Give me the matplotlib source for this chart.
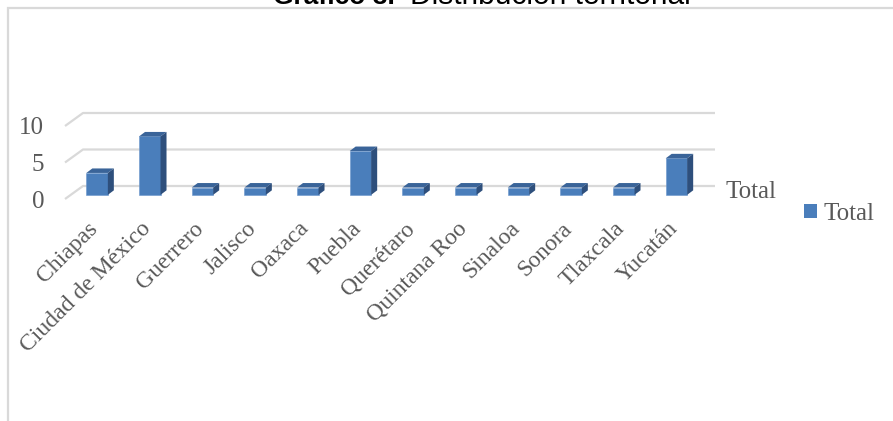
import matplotlib
matplotlib.use("Agg")
import matplotlib.pyplot as plt
import numpy as np
from matplotlib.patches import Polygon, Rectangle, Patch

categories = ["Chiapas", "Ciudad de México", "Guerrero", "Jalisco", "Oaxaca", "Puebla",
              "Querétaro", "Quintana Roo", "Sinaloa", "Sonora", "Tlaxcala", "Yucatán"]
values = [3, 8, 1, 1, 1, 6, 1, 1, 1, 1, 1, 5]
yticks = [0, 5, 10]
series_name = "Total"
title_bold = "Gráfico 3."
title_rest = "Distribución territorial"

W, H = 893, 421
fig = plt.figure(figsize=(W / 100, H / 100), dpi=100)

# axes in "front plane" coordinates
px_left, px_right = 65, 697
px_y0, px_y10 = 199, 126
ax = fig.add_axes([px_left / W, 1 - px_y0 / H, (px_right - px_left) / W, (px_y0 - px_y10) / H])
n = len(categories)
ax.set_xlim(-0.5, n - 0.5)
ax.set_ylim(0, 10)
for s in ax.spines.values():
    s.set_visible(False)
ax.patch.set_alpha(0)

cat_px = (px_right - px_left) / n
val_px = (px_y0 - px_y10) / 10.0
dxb, dyb = 18 / cat_px, 13 / val_px          # floor depth (front -> back wall)
sx, sy = 0.32 * dxb, 0.32 * dyb              # bar placement within floor depth
bw = 21.5 / cat_px                           # bar width
ddx, ddy = 6 / cat_px, 4.5 / val_px          # bar 3D depth

grid_c = "#D9D9D9"
text_c = "#595959"
serif = "Liberation Serif"

# gridlines (side wall diagonal + back wall horizontal)
for v in yticks:
    ax.plot([-0.5, -0.5 + dxb, n - 0.5 + dxb], [v, v + dyb, v + dyb],
            color=grid_c, lw=1.6, clip_on=False, zorder=1, solid_capstyle="butt")

x = np.arange(n)
front_c, side_c, top_c = "#4A7EBB", "#2E4F7C", "#3A6499"
ax.bar(x + sx, values, width=bw, bottom=sy, color=front_c, edgecolor="#6A96CC",
       linewidth=0.4, zorder=3, clip_on=False)
for xi, v in zip(x, values):
    x0 = xi + sx - bw / 2
    x1 = x0 + bw
    top = sy + v
    ax.add_patch(Polygon([(x0, top), (x1, top), (x1 + ddx, top + ddy), (x0 + ddx, top + ddy)],
                         closed=True, facecolor=top_c, edgecolor="none", zorder=3, clip_on=False))
    ax.add_patch(Polygon([(x1, sy), (x1 + ddx, sy + ddy), (x1 + ddx, top + ddy), (x1, top)],
                         closed=True, facecolor=side_c, edgecolor="none", zorder=3, clip_on=False))

ax.set_yticks(yticks)
ax.set_yticklabels([str(t) for t in yticks], fontsize=18, color=text_c, family=serif)
ax.tick_params(axis="y", length=0, pad=15)
ax.set_xticks(x + sx - 0.04)
ax.set_xticklabels(categories, rotation=45, ha="right", va="center", rotation_mode="anchor",
                   fontsize=17, color=text_c, family=serif)
ax.tick_params(axis="x", length=0, pad=19)

# depth (series) axis label
ax.annotate(series_name, xy=(n - 0.5 + dxb, dyb), xytext=(10, -6), textcoords="offset pixels",
            ha="left", va="center", fontsize=18, color=text_c, family=serif, annotation_clip=False)

# legend
fs_leg = 18
leg = fig.legend(handles=[Patch(facecolor=front_c, edgecolor="none", label=series_name)],
                 loc="center left", bbox_to_anchor=(804 / W, 1 - 214 / H), frameon=False,
                 handlelength=0.52, handleheight=0.52, handletextpad=0.25, borderpad=0,
                 borderaxespad=0, prop={"family": serif, "size": fs_leg})
for t in leg.get_texts():
    t.set_color(text_c)

# chart frame
fig.patches.append(Rectangle((7.5 / W, -0.2), 1.5, (1 - 7.5 / H) + 0.2, transform=fig.transFigure,
                             fill=False, edgecolor=grid_c, lw=1.6, zorder=0))

# title (cut off at the top, as in the source image)
fig.text(395 / W, 1 - 4 / H, title_bold, ha="right", va="baseline", fontsize=19,
         fontweight="bold", family="Liberation Sans", color="#000000")
fig.text(410 / W, 1 - 4 / H, title_rest, ha="left", va="baseline", fontsize=21.5,
         family="Liberation Sans", color="#000000")

fig.savefig("out.png", dpi=100)
